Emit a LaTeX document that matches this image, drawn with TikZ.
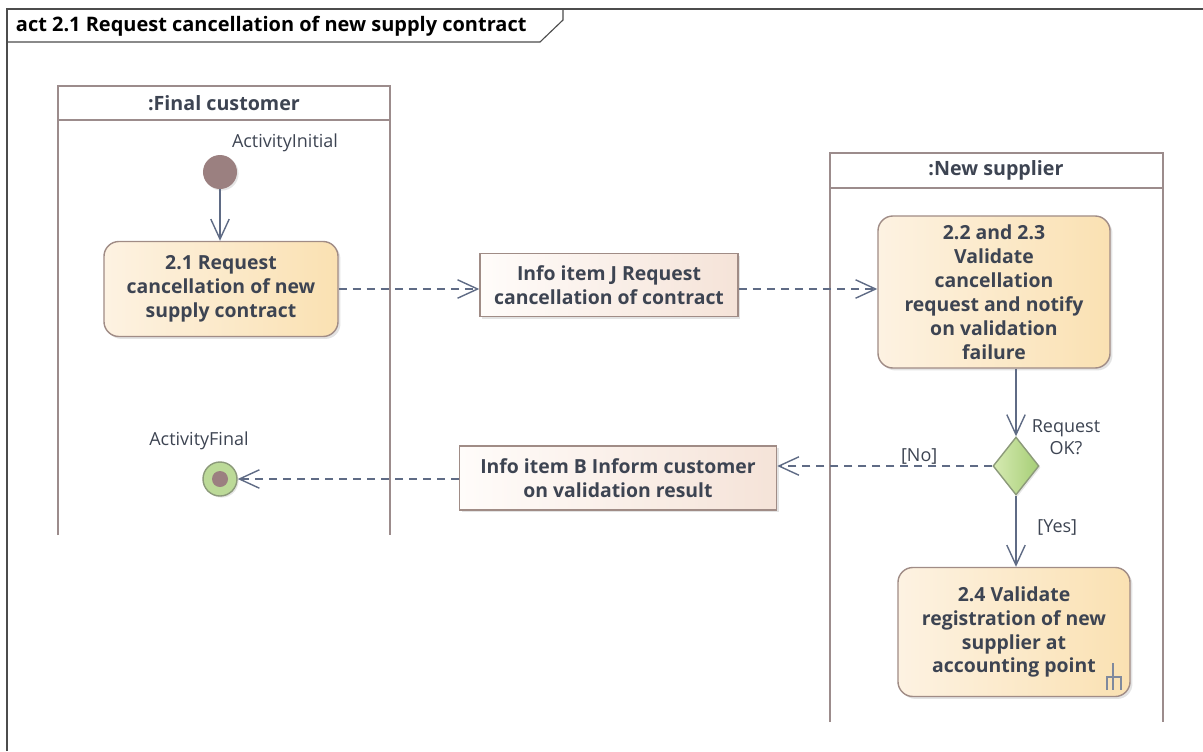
\documentclass[tikz,border=0pt]{standalone}
\usepackage{fontspec}
\setmainfont{Open Sans}
\usetikzlibrary{arrows.meta,shapes.geometric,shadows}
\definecolor{texto}{HTML}{3D4452}
\definecolor{linea}{HTML}{5F6B85}
\definecolor{bordeCarril}{HTML}{9C8C8C}
\definecolor{bordeAcc}{HTML}{A08C86}
\definecolor{accIzq}{HTML}{FDF2E2}
\definecolor{accDer}{HTML}{FAE1B2}
\definecolor{infoIzq}{HTML}{FFFCFA}
\definecolor{infoDer}{HTML}{F5E3D8}
\definecolor{nodoIni}{HTML}{9B8080}
\definecolor{verdeIzq}{HTML}{D6EAB2}
\definecolor{verdeDer}{HTML}{A6CE76}
\definecolor{bordeVerde}{HTML}{8C9A7A}
\begin{document}
\begin{tikzpicture}[x=0.025cm, y=-0.025cm,
    accion/.style={draw=bordeAcc, line width=1pt, rounded corners=0.375cm, left color=accIzq, right color=accDer, text=texto, align=center, font=\fontsize{13.8}{17}\selectfont\bfseries, drop shadow={shadow xshift=0.6mm, shadow yshift=-0.6mm, fill=black!22}},
    info/.style={draw=bordeAcc, line width=1pt, left color=infoIzq, right color=infoDer, text=texto, align=center, font=\fontsize{13.8}{17}\selectfont\bfseries, drop shadow={shadow xshift=0.6mm, shadow yshift=-0.6mm, fill=black!22}},
    carril/.style={draw=bordeCarril, line width=1.5pt},
    cabecera/.style={font=\fontsize{14}{16}\selectfont\bfseries, text=texto},
    etiqueta/.style={font=\fontsize{12.8}{16}\selectfont, text=texto, align=center},
    flujo/.style={draw=linea, line width=1pt, -{Straight Barb[length=5mm, width=4.6mm]}},
    objeto/.style={flujo, dash pattern=on 2mm off 1.5mm}
  ]
  \useasboundingbox (0,0) rectangle (1203,751);

  % --- marco del diagrama ---
  \draw[black!70, line width=1.4pt] (7,751) -- (7,9) -- (1203,9);
  \draw[black!70, line width=0.8pt] (7,42) -- (540,42) -- (563,20) -- (563,9);
  \node[anchor=west, font=\fontsize{14.2}{16}\selectfont\bfseries] (titulo) at (11,26) {act 2.1 Request cancellation of new supply contract};

  % --- carriles ---
  \draw[carril] (58,535) -- (58,86) -- (390,86) -- (390,535);
  \draw[carril] (58,120) -- (390,120);
  \node[cabecera] (cliente) at (224,103) {:Final customer};
  \draw[carril] (830,722) -- (830,153) -- (1163,153) -- (1163,722);
  \draw[carril] (830,188) -- (1163,188);
  \node[cabecera] (proveedor) at (996,170) {:New supplier};

  % --- nodos ---
  \node[circle, fill=nodoIni, minimum size=0.85cm, inner sep=0pt, drop shadow={shadow xshift=0.4mm, shadow yshift=-0.4mm, fill=black!20}] (ini) at (220,172) {};
  \node[etiqueta] at (285,143) {ActivityInitial};
  \node[accion, minimum width=5.85cm, minimum height=2.375cm] (a21) at (221,289) {2.1 Request\\cancellation of new\\supply contract};
  \node[info, minimum width=6.45cm, minimum height=1.575cm] (infoJ) at (609,285) {Info item J Request\\cancellation of contract};
  \node[accion, minimum width=5.8cm, minimum height=3.8cm] (a22) at (994,292) {2.2 and 2.3\\Validate\\cancellation\\request and notify\\on validation\\failure};
  \node[diamond, draw=bordeVerde, line width=1pt, left color=verdeIzq, right color=verdeDer, minimum width=1.15cm, minimum height=1.45cm, inner sep=0pt, drop shadow={shadow xshift=0.4mm, shadow yshift=-0.4mm, fill=black!20}] (dec) at (1016,466) {};
  \node[etiqueta] at (1066,437) {Request\\OK?};
  \node[accion, minimum width=5.8cm, minimum height=3.225cm] (a24) at (1014,632) {2.4 Validate\\registration of new\\supplier at\\accounting point};
  \draw[linea!80, line width=0.8pt] (1113,663) -- (1113,690) (1107,690) -- (1107,677) -- (1121,677) -- (1121,690);
  \node[info, minimum width=7.925cm, minimum height=1.6cm] (infoB) at (618,478) {Info item B Inform customer\\on validation result};
  \node[circle, draw=bordeVerde, line width=1pt, fill=verdeDer!75, minimum size=0.85cm, inner sep=0pt, drop shadow={shadow xshift=0.4mm, shadow yshift=-0.4mm, fill=black!20}] (fin) at (220,479) {};
  \node[circle, fill=nodoIni, minimum size=0.4cm, inner sep=0pt] (finInt) at (fin) {};
  \node[etiqueta] at (199,441) {ActivityFinal};

  % --- conectores ---
  \draw[flujo] (ini) -- (ini |- a21.north);
  \draw[objeto] (a21.east) -- (a21.east -| infoJ.west);
  \draw[objeto] (infoJ.east |- a21.east) -- (a21.east -| a22.west);
  \draw[flujo] (a22.south -| dec.north) -- (dec.north);
  \draw[objeto] (dec.west) -- node[etiqueta, pos=0.34, anchor=south, inner sep=0.5pt] {[No]} (dec.west -| infoB.east);
  \draw[objeto] (infoB.west |- fin) -- (fin);
  \draw[flujo] (dec.south) -- node[etiqueta, pos=0.45, anchor=west, xshift=0.4cm] {[Yes]} (dec.south |- a24.north);
\end{tikzpicture}
\end{document}
